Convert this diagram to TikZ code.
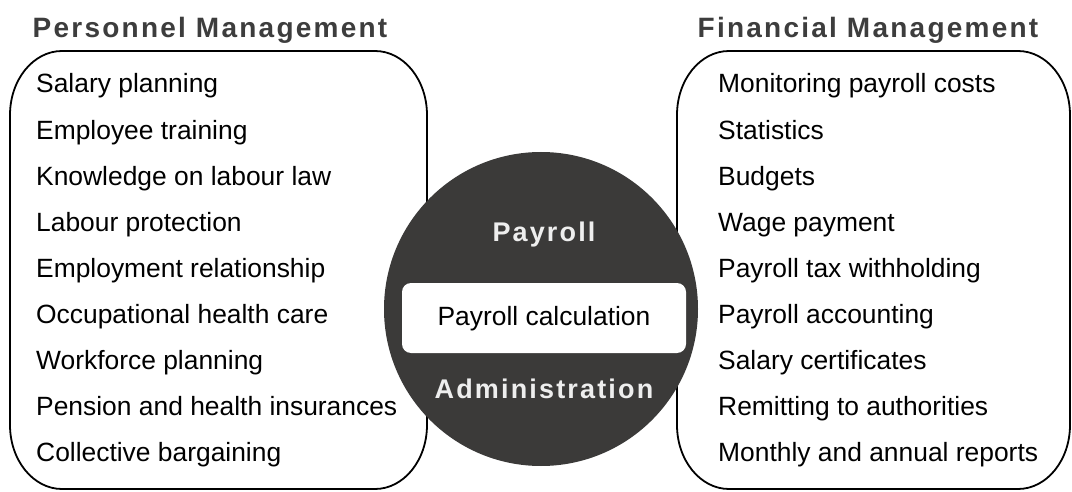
\documentclass[tikz,border=0pt]{standalone}
\usepackage{fontspec}
\setmainfont{Liberation Sans}
\newfontfamily\headfont[LetterSpace=8]{Liberation Sans}
\definecolor{headgray}{HTML}{3D3D3D}
\definecolor{hubgray}{HTML}{3B3A39}
\definecolor{hubtext}{HTML}{EEEEEE}
\begin{document}
\begin{tikzpicture}[x=1pt,y=1pt,
  listitem/.style={anchor=base west, inner sep=0pt, text=black,
    font=\fontsize{26.4}{30}\selectfont},
  heading/.style={anchor=base, inner sep=0pt, text=headgray,
    font=\fontsize{28}{30}\selectfont\headfont\bfseries},
  hubhead/.style={anchor=base, inner sep=0pt, text=hubtext,
    font=\fontsize{27}{30}\selectfont\headfont\bfseries},
  panel/.style={draw=black, line width=1.8pt, fill=white},
]
\useasboundingbox (0,0) rectangle (1072,491);

% rounded panels with elliptical corners
\def\rx{52}\def\ry{64}
\draw[panel] (10,2+\ry) -- (10,440-\ry)
  arc[start angle=180,end angle=90,x radius=\rx,y radius=\ry]
  -- (427-\rx,440)
  arc[start angle=90,end angle=0,x radius=\rx,y radius=\ry]
  -- (427,2+\ry)
  arc[start angle=0,end angle=-90,x radius=\rx,y radius=\ry]
  -- (10+\rx,2)
  arc[start angle=270,end angle=180,x radius=\rx,y radius=\ry] -- cycle;
\draw[panel] (677,2+\ry) -- (677,440-\ry)
  arc[start angle=180,end angle=90,x radius=\rx,y radius=\ry]
  -- (1070-\rx,440)
  arc[start angle=90,end angle=0,x radius=\rx,y radius=\ry]
  -- (1070,2+\ry)
  arc[start angle=0,end angle=-90,x radius=\rx,y radius=\ry]
  -- (677+\rx,2)
  arc[start angle=270,end angle=180,x radius=\rx,y radius=\ry] -- cycle;

% headings
\node[heading] (pmtitle) at (210,453) {Personnel Management};
\node[heading] (fmtitle) at (868,453) {Financial Management};

% left list
\foreach \t [count=\i from 0] in {Salary planning,Employee training,
  Knowledge on labour law,Labour protection,Employment relationship,
  Occupational health care,Workforce planning,
  Pension and health insurances,Collective bargaining}
  \node[listitem] (p\i) at (36,{398-46.1*\i}) {\t};

% right list
\foreach \t [count=\i from 0] in {Monitoring payroll costs,Statistics,
  Budgets,Wage payment,Payroll tax withholding,Payroll accounting,
  Salary certificates,Remitting to authorities,Monthly and annual reports}
  \node[listitem] (f\i) at (718,{398-46.1*\i}) {\t};

% central hub
\node[circle, fill=hubgray, minimum size=314pt, inner sep=0pt] (hub) at (541,182) {};
\node[fill=white, rounded corners=9pt, minimum width=284pt, minimum height=70pt,
  inner sep=0pt] (calc) at (544,173) {};
\node[anchor=base, inner sep=0pt, font=\fontsize{26.4}{30}\selectfont]
  (calctext) at (544,166) {Payroll calculation};
\node[hubhead] (payroll) at (544,249) {Payroll};
\node[hubhead] (admin) at (544,93) {Administration};
\end{tikzpicture}
\end{document}
